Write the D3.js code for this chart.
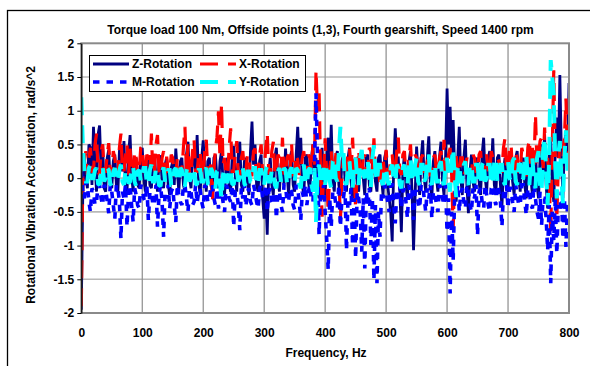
<!DOCTYPE html>
<html>
<head>
<meta charset="utf-8">
<script src="https://cdn.jsdelivr.net/npm/d3@7/dist/d3.min.js"></script>
<style>
  body { margin: 0; background: #fff; }
  svg text { font-family: Arial, "Liberation Sans", sans-serif; font-weight: bold; font-size: 12px; fill: #000; }
</style>
</head>
<body>
<div id="chart"></div>
<script>
// spectrum, one value every 2.5 Hz from 0 to 800 (20 values per 50 Hz row)
const freqStep = 2.5;

const zRotation = [
  -1.95, -0.2, 0.3, 0.05, -0.15, 0.5, 0.45, -0.1, 0.76, 0.2, -0.2, 0.65, 0.78, 0.1, 0.5, -0.15, -0.2, 0.3, 0.42, -0.1,
  -0.15, 0.25, 0.35, -0.1, -0.2, 0.4, 0.5, 0.1, 0.55, -0.15, -0.2, 0.35, 0.64, 0.05, -0.2, 0.25, 0.3, -0.1, -0.15, 0.3,
  0.45, 0.0, -0.2, 0.3, 0.25, -0.1, -0.15, 0.2, 0.35, 0.0, -0.2, 0.25, 0.34, -0.05, -0.15, 0.2, 0.3, -0.1, -0.25, 0.15,
  0.25, -0.1, 0.44, 0.1, -0.2, 0.25, 0.3, -0.1, -0.2, 0.35, 0.54, 0.0, -0.15, 0.3, 0.35, 0.1, 0.64, -0.05, -0.25, 0.3,
  0.56, 0.1, -0.2, 0.25, 0.3, -0.1, -0.2, 0.3, 0.35, 0.0, -0.15, 0.25, 0.4, -0.05, -0.25, 0.2, 0.3, -0.1, -0.2, 0.3,
  0.48, 0.05, -0.2, 0.35, 0.54, -0.1, -0.2, 0.25, 0.3, -0.05, -0.25, 0.4, 0.84, 0.2, 0.5, -0.1, -0.2, 0.25, 0.35, -0.3,
  -0.6, -0.2, -0.84, 0.1, 0.3, -0.1, -0.25, 0.3, 0.45, 0.0, -0.2, 0.2, 0.3, -0.1, 0.44, 0.1, -0.25, 0.3, 0.4, -0.1,
  -0.2, 0.35, 0.76, 0.2, 0.6, -0.1, -0.25, 0.3, 0.35, -0.05, -0.2, 0.3, 0.5, 0.0, 0.3, -0.15, -0.3, 0.25, 0.45, -0.1,
  -0.25, 0.3, 0.6, 0.1, 0.79, -0.05, -0.2, 0.3, 0.4, -0.1, -0.25, 0.25, 0.35, 0.0, -0.2, 0.3, 0.45, -0.05, -0.3, 0.2,
  0.3, -0.1, -0.2, 0.25, 0.4, 0.0, -0.25, 0.3, 0.35, -0.1, -0.2, 0.25, 0.3, -0.05, -0.2, 0.3, 0.35, 0.0, -0.25, 0.3,
  0.4, -0.1, -0.3, -0.5, -0.94, 0.2, 0.74, 0.3, 0.3, -0.2, -0.8, 0.1, 0.35, -0.1, -0.3, 0.25, 0.4, -0.2, -1.07, -0.3,
  0.47, 0.05, -0.25, 0.3, 0.56, 0.0, -0.2, 0.3, 0.62, -0.1, -0.3, 0.25, 0.4, 0.0, -0.2, 0.3, 0.54, -0.05, -0.25, 0.3,
  1.33, 0.5, 1.06, 0.3, 0.86, 0.1, -0.35, 0.3, 0.76, 0.0, -0.25, 0.3, 0.57, -0.1, -0.52, 0.1, 0.35, -0.05, -0.2, 0.25,
  0.3, -0.05, -0.25, 0.35, 0.6, 0.0, -0.2, 0.3, 0.4, 0.1, 0.59, -0.1, -0.25, 0.3, 0.35, -0.1, -0.42, 0.1, 0.3, -0.1,
  -0.2, 0.3, 0.35, -0.05, -0.25, 0.3, 0.4, 0.0, -0.2, 0.25, 0.3, -0.1, -0.3, 0.35, 0.45, 0.0, -0.25, 0.3, 0.4, -0.1,
  -0.3, 0.3, 0.5, 0.1, 0.66, -0.1, -0.45, 0.3, 0.6, -0.1, -0.35, 0.4, 0.9, 0.3, 1.53, 0.4, -0.3, 0.5, 0.7, 0.2,
  1.41
];

const xRotation = [
  -1.9, 0.1, 0.25, 0.4, 0.05, 0.3, 0.45, 0.1, 0.1, 0.5, 0.66, 0.1, 0.05, 0.4, 0.5, 0.1, 0.1, 0.35, 0.52, 0.05,
  0.1, 0.4, 0.3, 0.05, 0.05, 0.45, 0.66, 0.1, 0.1, 0.35, 0.5, 0.05, 0.44, 0.1, 0.05, 0.4, 0.3, 0.05, 0.1, 0.45,
  0.47, 0.1, 0.05, 0.35, 0.3, 0.1, 0.66, 0.05, 0.1, 0.5, 0.64, 0.1, 0.05, 0.3, 0.4, 0.05, 0.32, 0.1, 0.1, 0.35,
  0.3, 0.05, 0.05, 0.3, 0.24, 0.05, 0.1, 0.45, 0.76, 0.1, 0.5, 0.05, 0.05, 0.4, 0.57, 0.1, 0.1, 0.35, 0.4, 0.05,
  0.05, 0.4, 0.57, 0.1, 0.1, 0.2, -0.37, 0.1, 0.44, 0.6, 0.99, 0.3, 1.11, 0.2, 0.3, 0.05, 0.05, 0.45, 0.74, 0.1,
  0.1, 0.35, 0.55, 0.05, 0.05, 0.3, 0.4, 0.1, 0.1, 0.35, 0.3, 0.05, 0.05, 0.4, 0.44, 0.1, 0.1, 0.35, 0.5, 0.05,
  0.1, 0.45, 0.67, 0.1, 0.05, 0.4, 0.54, 0.05, 0.1, 0.35, 0.3, 0.1, 0.6, 0.05, 0.05, 0.3, 0.35, 0.1, 0.5, 0.05,
  0.05, 0.35, 0.27, 0.05, 0.1, 0.3, 0.4, 0.1, 0.05, 0.35, 0.3, 0.1, 0.5, 0.2, 1.6, 1.0, 1.3, 0.1, -0.57, 0.1,
  0.59, 0.05, -0.5, 0.1, 0.4, 0.05, 0.05, 0.35, 0.35, 0.1, -0.65, 0.05, 0.3, 0.1, 0.05, 0.4, 0.45, 0.05, 0.6, 0.1,
  -0.45, 0.1, 0.42, 0.05, 0.05, 0.3, 0.35, 0.1, 0.1, 0.45, 0.4, 0.05, 0.59, 0.1, 0.05, 0.2, -0.13, 0.1, 0.3, 0.05,
  0.42, 0.1, 0.05, 0.3, 0.35, 0.05, 0.1, 0.4, 0.6, 0.1, 0.05, 0.35, 0.4, 0.05, 0.1, 0.3, 0.5, 0.1, 0.05, 0.35,
  0.3, 0.05, 0.05, 0.3, 0.35, 0.1, 0.1, 0.25, 0.3, 0.05, 0.05, 0.3, 0.35, 0.1, 0.1, 0.3, 0.4, 0.1, 0.57, 0.1,
  0.1, 0.35, 0.45, 0.05, -0.75, 0.1, 0.35, 0.05, 0.05, 0.3, 0.3, 0.05, 0.1, 0.3, 0.25, 0.05, 0.05, 0.35, 0.3, 0.1,
  0.1, 0.35, 0.4, 0.05, 0.05, 0.3, 0.35, 0.1, 0.1, 0.4, 0.3, 0.05, 0.05, 0.3, 0.25, 0.1, 0.1, 0.45, 0.59, 0.1,
  0.1, 0.45, 0.5, 0.05, 0.05, 0.4, 0.3, 0.1, 0.1, 0.45, 0.35, 0.05, 0.05, 0.45, 0.57, 0.15, 0.45, 0.2, 0.94, 0.2,
  0.3, 0.55, 0.6, 0.1, 0.75, 0.2, 0.3, 0.05, -0.82, 0.4, 1.6, 0.3, -0.6, 0.2, 0.5, 0.1, 0.3, 0.6, 1.18, 0.3,
  0.4
];

const mRotation = [
  0.1, -0.2, -0.3, -0.05, -0.1, -0.35, -0.5, -0.15, -0.2, -0.4, -0.35, -0.1, -0.1, -0.3, -0.4, -0.1, -0.15, -0.35, -0.52, -0.1,
  -0.2, -0.4, -0.6, -0.1, -0.15, -0.35, -0.9, -0.2, -0.3, -0.1, -0.72, -0.2, -0.1, -0.4, -0.65, -0.15, -0.25, -0.4, -0.45, -0.1,
  -0.15, -0.3, -0.35, -0.1, -0.62, -0.2, -0.2, -0.4, -0.4, -0.1, -0.72, -0.25, -0.1, -0.35, -0.87, -0.2, -0.3, -0.1, -0.45, -0.2,
  -0.15, -0.4, -0.65, -0.1, -0.25, -0.35, -0.4, -0.1, -0.1, -0.3, -0.5, -0.15, -0.2, -0.4, -0.35, -0.1, -0.37, -0.2, -0.15, -0.35,
  -0.45, -0.1, -0.2, -0.35, -0.35, -0.1, -0.1, -0.3, -0.4, -0.15, -0.45, -0.2, -0.2, -0.35, -0.5, -0.1, -0.15, -0.3, -0.35, -0.1,
  -0.72, -0.2, -0.2, -0.4, -0.77, -0.15, -0.3, -0.1, -0.42, -0.2, -0.15, -0.35, -0.4, -0.1, -0.2, -0.35, -0.45, -0.15, -0.1, -0.3,
  -0.3, -0.1, -0.5, -0.2, -0.15, -0.35, -0.4, -0.1, -0.6, -0.2, -0.2, -0.4, -0.5, -0.1, -0.1, -0.35, -0.35, -0.15, -0.2, -0.4,
  -0.47, -0.1, -0.15, -0.35, -0.62, -0.2, -0.3, -0.1, -0.4, -0.2, -0.1, -0.35, -0.35, 0.2, 1.26, 0.3, -0.84, -0.2, -0.3, -0.1,
  -0.5, -0.9, -1.36, -0.3, -0.72, -0.2, -0.2, -0.4, -0.45, -0.1, -0.72, -0.3, -0.3, -0.1, -1.07, -0.3, -0.4, -0.15, -1.0, -0.3,
  -1.19, -0.2, -0.3, -0.5, -1.09, -0.3, -1.34, -0.2, -0.4, -0.15, -0.99, -0.3, -1.51, -0.4, -1.56, -0.5, -0.87, -0.2, -0.3, -0.1,
  -0.2, -0.35, -0.5, -0.1, -0.1, -0.4, -0.67, -0.2, -0.3, -0.1, -0.45, -0.2, -0.15, -0.35, -0.6, -0.1, -0.3, -0.15, -0.62, -0.2,
  -0.2, -0.35, -0.45, -0.1, -0.1, -0.3, -0.5, -0.15, -0.3, -0.1, -0.6, -0.2, -0.2, -0.4, -0.5, -0.1, -0.15, -0.3, -0.4, -0.1,
  -0.8, -0.3, -1.71, -0.5, -1.22, -0.2, -0.3, -0.1, -0.5, -0.2, -0.15, -0.35, -0.45, -0.1, -0.2, -0.4, -0.5, -0.15, -0.3, -0.1,
  -0.85, -0.2, -0.15, -0.35, -0.45, -0.1, -0.25, -0.4, -0.5, -0.15, -0.1, -0.3, -0.4, -0.1, -0.2, -0.35, -0.72, -0.2, -0.3, -0.1,
  -0.45, -0.15, -0.15, -0.35, -0.5, -0.1, -0.25, -0.4, -0.4, -0.1, -0.1, -0.35, -0.55, -0.15, -0.2, -0.4, -0.45, -0.1, -0.3, -0.5,
  -0.6, -0.2, -0.7, -0.3, -0.3, -0.6, -1.07, -0.4, -1.56, -0.5, -0.92, -0.3, -1.12, -0.4, -0.5, -0.2, -0.9, -0.3, -1.02, -0.4,
  -0.3
];

const yRotation = [
  1.2, 0.5, 0.1, -0.05, -0.05, 0.15, 0.2, 0.0, 0.0, 0.12, 0.15, -0.08, -0.1, 0.1, 0.18, -0.05, 0.0, 0.15, 0.12, -0.08,
  -0.12, 0.1, 0.15, -0.05, -0.05, 0.12, 0.2, -0.05, -0.1, 0.12, 0.1, -0.08, -0.05, 0.15, 0.18, -0.05, -0.12, 0.1, 0.12, -0.05,
  0.0, 0.15, 0.15, -0.08, -0.1, 0.12, 0.2, -0.05, -0.05, 0.15, 0.1, -0.1, -0.12, 0.1, 0.16, -0.05, 0.0, 0.12, 0.12, -0.1,
  -0.1, 0.12, 0.15, -0.05, -0.05, 0.15, 0.12, -0.1, -0.12, 0.1, 0.18, -0.05, 0.0, 0.15, 0.14, -0.08, -0.1, 0.12, 0.12, -0.05,
  -0.05, 0.12, 0.15, -0.08, -0.1, 0.15, 0.1, -0.1, -0.15, 0.1, 0.12, -0.1, -0.3, 0.05, 0.15, -0.05, -0.05, 0.12, 0.14, -0.08,
  -0.1, 0.1, 0.12, -0.05, 0.0, 0.15, 0.16, -0.08, -0.12, 0.1, 0.1, -0.05, -0.05, 0.15, 0.15, -0.1, -0.1, 0.12, 0.12, -0.05,
  -0.1, 0.12, 0.18, -0.05, -0.05, 0.12, 0.1, -0.1, -0.15, 0.1, 0.15, -0.05, 0.0, 0.15, 0.12, -0.08, -0.1, 0.12, 0.16, -0.05,
  -0.05, 0.15, 0.12, -0.08, -0.15, 0.12, 0.2, -0.05, -0.1, 0.12, 0.15, -0.1, -0.2, 0.15, -0.65, 0.1, 0.2, -0.05, -0.1, 0.15,
  -0.1, 0.2, 0.2, -0.05, -0.15, 0.25, 0.3, 0.0, -0.05, 0.4, 0.76, 0.3, 0.4, -0.05, -0.1, 0.2, 0.25, -0.05, -0.15, 0.2,
  0.3, 0.0, -0.1, 0.3, 0.42, 0.05, 0.0, 0.25, 0.25, -0.1, -0.15, 0.3, 0.49, 0.1, -0.05, 0.2, 0.2, -0.05, -0.1, 0.15,
  0.15, -0.05, -0.1, 0.15, 0.2, -0.05, -0.05, 0.2, 0.15, -0.1, -0.15, 0.15, 0.2, -0.05, -0.1, 0.2, 0.3, -0.05, -0.05, 0.2,
  0.3, -0.05, -0.1, 0.2, 0.2, -0.05, 0.0, 0.25, 0.35, -0.05, -0.1, 0.2, 0.2, -0.05, -0.05, 0.2, 0.25, -0.05, -0.1, 0.2,
  0.3, -0.05, -0.2, 0.25, 0.44, 0.0, -0.28, 0.15, 0.2, -0.05, -0.05, 0.2, 0.25, -0.05, -0.1, 0.2, 0.2, -0.05, -0.05, 0.2,
  0.2, -0.05, -0.1, 0.2, 0.25, -0.05, 0.0, 0.2, 0.2, -0.05, -0.1, 0.25, 0.3, -0.05, -0.05, 0.2, 0.2, -0.05, -0.1, 0.2,
  0.25, 0.0, -0.05, 0.25, 0.3, -0.05, -0.1, 0.2, 0.2, -0.05, 0.0, 0.3, 0.35, -0.05, -0.1, 0.25, 0.3, -0.05, -0.15, 0.3,
  0.4, -0.1, -0.2, 0.4, 0.6, 0.1, -0.4, 0.3, 1.75, 1.5, 1.26, 0.2, -0.3, 0.35, 0.55, 0.0, -0.37, 0.3, 0.71, 0.1,
  0.3
];

const xTicks = [0, 100, 200, 300, 400, 500, 600, 700, 800];
const yTicks = [-2, -1.5, -1, -0.5, 0, 0.5, 1, 1.5, 2];
const seriesNames = ["Z-Rotation", "X-Rotation", "M-Rotation", "Y-Rotation"];

function drawChart() {

  let margin = { top: 43.3, bottom: 53, right: 21, left: 81.3 };
  let W = 590, H = 366;
  let w = W - margin.left - margin.right;
  let h = H - margin.top - margin.bottom;

  let svg = d3.select("#chart")
    .append("svg")
    .attr("width", W)
    .attr("height", H);

  svg.append("rect").attr("width", W).attr("height", H).attr("fill", "#fff");

  // outer chart frame (runs off the right and bottom edge)
  svg.append("rect")
    .attr("x", 7.5).attr("y", 10.5)
    .attr("width", 700).attr("height", 500)
    .attr("fill", "none").attr("stroke", "#000").attr("stroke-width", 1.3);

  svg.append("text")
    .attr("x", 320.5).attr("y", 34)
    .attr("text-anchor", "middle")
    .text("Torque load 100 Nm, Offside points (1,3), Fourth gearshift, Speed 1400 rpm");

  let g = svg.append("g")
    .attr("transform", `translate(${margin.left}, ${margin.top})`);

  let xl = d3.scaleLinear().domain([0, 800]).range([0, w]);
  let yl = d3.scaleLinear().domain([-2, 2]).range([h, 0]);

  // gridlines
  g.append("g").selectAll("line")
    .data(yTicks.filter(d => d > -2 && d < 2))
    .enter().append("line")
    .attr("x1", 0).attr("x2", w)
    .attr("y1", d => yl(d)).attr("y2", d => yl(d))
    .attr("stroke", "#b8b8b8").attr("stroke-width", 1.6);

  g.append("g").selectAll("line")
    .data(xTicks.filter(d => d > 0 && d < 800))
    .enter().append("line")
    .attr("x1", d => xl(d)).attr("x2", d => xl(d))
    .attr("y1", 0).attr("y2", h)
    .attr("stroke", "#8c8c8c").attr("stroke-width", 1.2);

  g.append("clipPath").attr("id", "plotClip")
    .append("rect").attr("x", 0).attr("y", 0).attr("width", w).attr("height", h);

  let series = [
    { name: seriesNames[0], values: zRotation, color: "#000080", width: 2.8, dash: null },
    { name: seriesNames[1], values: xRotation, color: "#ff0000", width: 3.2, dash: "18,10" },
    { name: seriesNames[2], values: mRotation, color: "#0000ff", width: 3.6, dash: "6.5,7" },
    { name: seriesNames[3], values: yRotation, color: "#00ffff", width: 4, dash: "18,10" }
  ];

  let line = d3.line()
    .x((d, i) => xl(i * freqStep))
    .y(d => yl(d));

  let lines = g.append("g").attr("clip-path", "url(#plotClip)");
  series.forEach(function(s) {
    lines.append("path")
      .datum(s.values)
      .attr("d", line)
      .attr("fill", "none")
      .attr("stroke", s.color)
      .attr("stroke-width", s.width)
      .attr("stroke-dasharray", s.dash)
      .attr("stroke-linejoin", "miter")
      .attr("stroke-miterlimit", 2);
  });

  // plot area border
  g.append("rect")
    .attr("width", w).attr("height", h)
    .attr("fill", "none").attr("stroke", "#8a8a8a").attr("stroke-width", 2);

  // axes
  let yAxis = d3.axisLeft(yl).tickValues(yTicks).tickSize(4).tickSizeOuter(0).tickPadding(3)
    .tickFormat(d => String(d));
  let ya = g.append("g").call(yAxis);
  ya.select(".domain").attr("stroke", "#000").attr("stroke-width", 1.2);
  ya.selectAll("line").attr("stroke", "#000");
  ya.selectAll("text").attr("font-size", null).attr("font-family", null);

  let xAxis = d3.axisBottom(xl).tickValues(xTicks).tickSize(0).tickPadding(15);
  let xa = g.append("g").attr("transform", `translate(0, ${h})`).call(xAxis);
  xa.select(".domain").remove();
  xa.selectAll("text").attr("font-size", null).attr("font-family", null);

  // axis titles
  svg.append("text")
    .attr("x", 326).attr("y", 357)
    .attr("text-anchor", "middle")
    .text("Frequency, Hz");

  svg.append("text")
    .attr("transform", "translate(34.5, 185) rotate(-90)")
    .attr("text-anchor", "middle")
    .text("Rotational Vibration Acceleration, rad/s^2");

  // legend
  let lg = svg.append("g");
  lg.append("rect")
    .attr("x", 89.5).attr("y", 55.5).attr("width", 216).attr("height", 36)
    .attr("fill", "#fff").attr("stroke", "#000").attr("stroke-width", 1);

  let legendPos = [
    { x: 93, y: 64 }, { x: 200, y: 64 },
    { x: 93, y: 82 }, { x: 200, y: 82 }
  ];
  series.forEach(function(s, i) {
    let p = legendPos[i];
    lg.append("line")
      .attr("x1", p.x).attr("x2", p.x + 36)
      .attr("y1", p.y).attr("y2", p.y)
      .attr("stroke", s.color)
      .attr("stroke-width", s.width)
      .attr("stroke-dasharray", s.dash);
    lg.append("text")
      .attr("x", p.x + 39).attr("y", p.y + 4.3)
      .text(s.name);
  });
}

drawChart();
</script>
</body>
</html>
